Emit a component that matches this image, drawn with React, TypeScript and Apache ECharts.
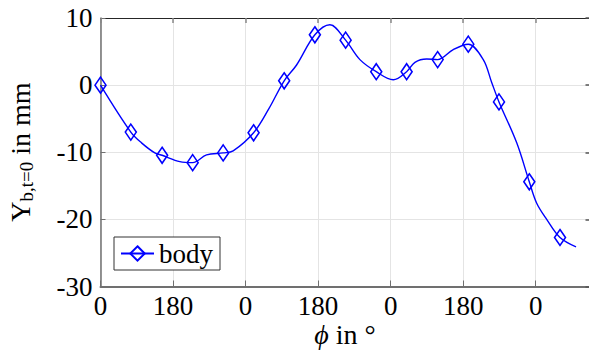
import React, { useEffect, useRef } from 'react';
import * as echarts from 'echarts';

// phi in degrees (continuous), Y_b,t=0 in mm, and whether a diamond marker sits on the point
const phi = [0, 75.2, 101.8, 134.8, 152.9, 196.9, 228.7, 263.2, 304.4, 329.2, 379.9, 417.9, 455.8, 486.6, 532, 569.3, 608.3, 643.8, 684.3, 726.5, 759.7, 780.3, 809.4, 836.7, 875.4, 912.7, 949.9, 970.8, 988.9, 1032.9, 1064.1, 1082.5, 1107.3, 1140.3, 1180.1];
const yb = [0, -7.0, -8.6, -10.1, -10.45, -11.4, -11.55, -10.4, -10.1, -9.8, -7.1, -3.5, 0.65, 3.0, 7.5, 9.0, 6.7, 3.8, 2.0, 0.8, 2.0, 3.4, 3.9, 3.8, 5.3, 6.1, 3.8, 0.4, -2.5, -8.6, -14.4, -17.6, -20.0, -22.7, -24.1];
const marked = [1, 1, 0, 0, 1, 0, 1, 0, 1, 0, 1, 0, 1, 0, 1, 0, 1, 0, 1, 0, 1, 0, 0, 1, 0, 1, 0, 0, 1, 0, 1, 0, 0, 1, 0];

const seriesName = 'body';
const xTickLabels = ['0', '180'];
const yTicks = [-30, -20, -10, 0, 10];

const FONT = '"Liberation Serif", "Times New Roman", serif';

export default function App() {
  const ref = useRef<HTMLDivElement>(null);
  useEffect(() => {
    if (!ref.current) return;
    const chart = echarts.init(ref.current, null, { renderer: 'svg' });
    const data = phi.map((p, i) => ({
      value: [p, yb[i]],
      symbol: marked[i] ? 'diamond' : 'none',
    }));
    const xFmt = (v: number) => {
      if (Math.abs(v % 360) < 1e-6) return xTickLabels[0];
      if (Math.abs(v % 180) < 1e-6) return xTickLabels[1];
      return '';
    };
    const yMin = yTicks[0];
    const yMax = yTicks[yTicks.length - 1];
    const yInt = yTicks[1] - yTicks[0];
    chart.setOption({
      animation: false,
      backgroundColor: '#ffffff',
      grid: { left: 100.5, top: 18, width: 490, height: 268.5, containLabel: false },
      xAxis: [
        {
          type: 'value', min: 0, max: 1216, interval: 180, position: 'bottom',
          axisLine: { show: true, onZero: false, lineStyle: { color: '#707070', width: 2 } },
          axisTick: { show: true, inside: true, length: 6, lineStyle: { color: '#707070', width: 1 } },
          axisLabel: { formatter: xFmt, fontSize: 27, fontFamily: FONT, color: '#000', margin: 6, showMaxLabel: false },
          splitLine: { show: true, lineStyle: { color: '#e4e4e4', width: 1 } },
        },
        {
          type: 'value', min: 0, max: 1216, interval: 180, position: 'top',
          axisLine: { show: true, onZero: false, lineStyle: { color: '#262626', width: 1 } },
          axisTick: { show: true, inside: true, length: 5, lineStyle: { color: '#888', width: 1.5 } },
          axisLabel: { show: false },
          splitLine: { show: false },
        },
      ],
      yAxis: [
        {
          type: 'value', min: yMin, max: yMax, interval: yInt, position: 'left',
          axisLine: { show: true, onZero: false, lineStyle: { color: '#707070', width: 1.5 } },
          axisTick: { show: true, inside: true, length: 5, lineStyle: { color: '#707070', width: 1 } },
          axisLabel: { fontSize: 27, fontFamily: FONT, color: '#000', margin: 8 },
          splitLine: { show: true, lineStyle: { color: '#e4e4e4', width: 1 } },
        },
        {
          type: 'value', min: yMin, max: yMax, interval: yInt, position: 'right',
          axisLine: { show: true, onZero: false, lineStyle: { color: '#262626', width: 1 } },
          axisTick: { show: true, inside: true, length: 5, lineStyle: { color: '#555', width: 1.5 } },
          axisLabel: { show: false },
          splitLine: { show: false },
        },
      ],
      legend: {
        show: true,
        left: 114, top: 237,
        orient: 'vertical',
        padding: [3, 7, 3, 6],
        backgroundColor: '#fff',
        borderColor: '#333',
        borderWidth: 1,
        borderRadius: 0,
        itemWidth: 33, itemHeight: 18,
        textStyle: { fontSize: 27, fontFamily: FONT, color: '#000' },
        data: [seriesName],
      },
      series: [
        {
          name: seriesName,
          type: 'line',
          data,
          smooth: 0.35,
          showSymbol: true,
          showAllSymbol: true,
          symbol: 'diamond',
          symbolSize: [11, 16],
          itemStyle: { color: 'rgba(0,0,0,0)', borderColor: '#0000ff', borderWidth: 1.6 },
          lineStyle: { color: '#0000ff', width: 1.4 },
          emphasis: { disabled: true },
          z: 5,
        },
      ],
      graphic: [
        {
          type: 'text', x: 20, y: 152, rotation: Math.PI / 2,
          style: {
            text: '{a|Y}{b|b,t=0}{a| in mm}',
            align: 'center', verticalAlign: 'middle',
            rich: {
              a: { fontSize: 28, fontFamily: FONT, fill: '#000', lineHeight: 32 },
              b: { fontSize: 19, fontFamily: FONT, fill: '#000', lineHeight: 19, verticalAlign: 'bottom' },
            },
          },
        },
        {
          type: 'text', x: 345, y: 334,
          style: {
            text: '{i|ϕ}{r| in °}',
            align: 'center', verticalAlign: 'middle',
            rich: {
              i: { fontSize: 28, fontFamily: FONT, fontStyle: 'italic', fill: '#000', lineHeight: 32 },
              r: { fontSize: 28, fontFamily: FONT, fill: '#000', lineHeight: 32 },
            },
          },
        },
      ],
    });
    return () => chart.dispose();
  }, []);
  return (
    <div style={{ position: 'fixed', left: 0, top: 0, width: 589, height: 355, overflow: 'hidden', background: '#fff' }}>
      <div ref={ref} style={{ width: 592, height: 355 }} />
    </div>
  );
}
